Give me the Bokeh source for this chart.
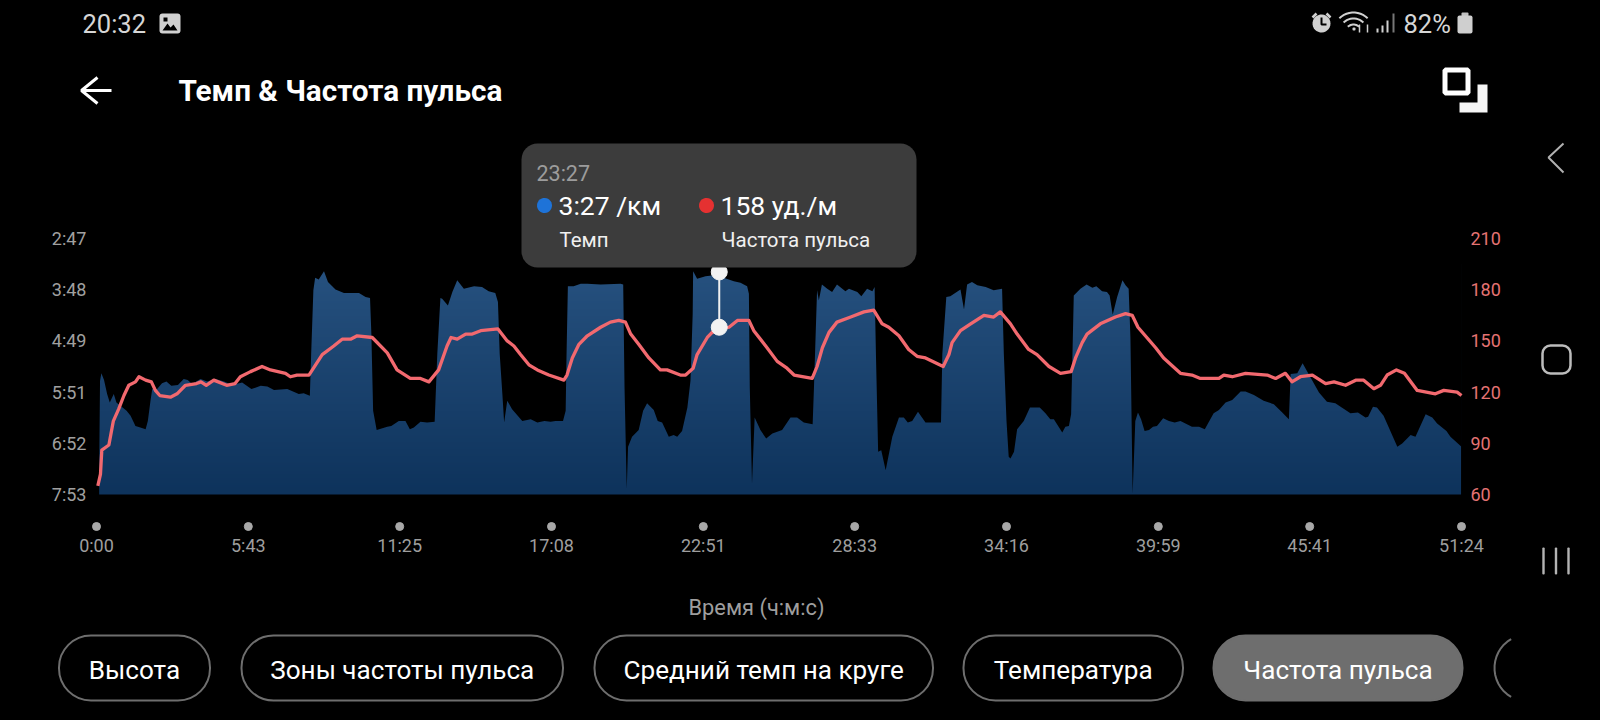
import numpy as np
from bokeh.plotting import figure
from bokeh.embed import file_html
from bokeh.resources import INLINE
from bokeh.models import Range1d, LinearAxis, FixedTicker, Label, BoxAnnotation, PolyAnnotation

# ---------- data ----------
pace_t = [0,5,8,11,17,24,30,39,45,54,68,77,88,99,111,116,122,126,137,148,158,169,184,197,206,216,235,250,269,288,307,329,350,371,386,401,431,457,468,482,485,490,494,502,514,523,540,559,593,608,618,621,625,633,657,666,683,698,708,717,732,747,764,770,777,781,794,804,815,830,853,871,886,901,907,911,917,921,928,939,962,981,996,1012,1026,1037,1054,1060,1062,1065,1078,1094,1109,1139,1184,1190,1193,1198,1201,1210,1225,1235,1244,1259,1268,1278,1293,1304,1312,1323,1335,1342,1347,1348,1357,1376,1395,1417,1440,1455,1470,1474,1476,1481,1487,1500,1513,1527,1549,1568,1583,1598,1618,1621,1628,1632,1639,1651,1662,1673,1692,1700,1719,1728,1741,1753,1758,1761,1766,1773,1783,1798,1813,1824,1833,1843,1856,1873,1892,1908,1911,1920,1929,1952,1960,1967,1978,1990,2009,2027,2046,2050,2056,2061,2065,2073,2080,2095,2109,2131,2144,2155,2163,2182,2189,2197,2202,2208,2223,2237,2250,2259,2272,2283,2289,2296,2306,2318,2325,2332,2336,2341,2347,2353,2360,2368,2378,2387,2396,2410,2423,2436,2449,2475,2491,2504,2524,2536,2551,2566,2585,2596,2615,2637,2660,2679,2690,2694,2698,2713,2725,2743,2762,2780,2799,2833,2850,2867,2873,2884,2893,2908,2939,2950,2969,2980,3003,3018,3029,3050,3059,3084]
pace_s = [473,473,337,328,336,353,363,353,363,367,373,379,391,393,395,385,361,347,347,340,338,343,342,335,336,341,335,338,335,338,342,339,347,343,344,348,347,353,352,355,305,229,214,216,206,219,228,232,232,237,238,281,373,396,392,391,385,385,395,393,386,387,386,305,238,239,247,231,217,227,224,225,230,232,243,305,353,387,361,371,385,383,387,385,386,385,385,373,305,224,224,221,221,222,221,222,345,466,416,404,396,373,364,372,385,387,404,402,404,397,369,337,257,206,215,212,211,214,218,220,224,233,345,460,381,396,406,400,396,381,381,387,389,345,229,241,222,227,231,222,230,227,231,236,227,230,225,305,422,420,444,404,381,381,387,385,374,387,387,387,305,237,236,228,252,222,219,223,225,229,227,305,385,428,430,422,395,385,369,369,376,383,383,399,392,391,377,235,227,222,226,224,230,231,235,258,237,217,223,227,285,472,385,375,383,397,396,392,391,382,385,387,385,392,392,395,376,372,363,360,350,350,354,361,365,375,381,383,329,328,316,333,351,362,364,376,375,381,380,368,369,379,416,412,402,404,377,381,388,397,404,416]

hr_t = [3,9,12,28,38,50,62,73,88,96,111,124,133,143,167,182,201,226,236,248,265,294,313,325,348,374,393,427,438,453,480,495,510,536,555,574,589,623,657,679,709,732,751,773,792,801,815,834,849,868,907,928,943,958,977,996,1022,1056,1063,1075,1090,1109,1139,1161,1180,1195,1207,1225,1248,1274,1289,1319,1331,1348,1357,1380,1391,1410,1429,1448,1474,1485,1512,1538,1560,1576,1617,1628,1640,1655,1673,1704,1734,1756,1775,1790,1813,1835,1854,1873,1913,1926,1933,1952,1975,2005,2027,2042,2065,2080,2106,2125,2152,2178,2202,2212,2227,2238,2268,2302,2325,2340,2353,2393,2411,2449,2475,2494,2536,2547,2566,2596,2645,2664,2686,2701,2720,2747,2777,2796,2822,2845,2863,2886,2901,2916,2937,2955,2984,3025,3044,3074,3084]
hr_bpm = [65,72,86,89,103,110,118,124,126,129,127,126,121,118,117,119,124,125,126,124,127,124,125,129,132,135,133,131,129,130,130,136,142,147,151,151,153,152,143,133,128,128,126,133,147,152,151,154,154,156,157,150,147,142,136,133,130,127,130,140,148,153,158,161,162,161,154,148,140,133,133,130,130,134,142,152,155,157,158,162,162,156,147,138,134,130,128,135,146,155,161,164,167,168,160,158,153,145,141,140,135,142,149,156,160,165,164,167,160,154,145,142,135,131,132,140,149,154,160,164,166,165,158,146,140,131,130,128,128,130,129,131,130,128,131,126,129,130,125,126,124,127,127,122,124,130,133,131,121,119,121,120,118]

x_tick_values = [0,343,685,1028,1371,1713,2056,2399,2741,3084]
x_tick_labels = ["0:00","5:43","11:25","17:08","22:51","28:33","34:16","39:59","45:41","51:24"]
pace_tick_values = [167,228,289,351,412,473]
pace_tick_labels = ["2:47","3:48","4:49","5:51","6:52","7:53"]
hr_tick_values = [60,90,120,150,180,210]
hr_tick_labels = ["60","90","120","150","180","210"]
cursor_time = 1407
cursor_pace = 207
cursor_hr = 158
chip_labels = ["Высота","Зоны частоты пульса","Средний темп на круге","Температура","Частота пульса"]

# ---------- layout (page pixels); the plot frame fills the whole page ----------
W, H = 1600, 720
FONT = "Roboto"
px_x0, px_x1 = 96.0, 1461.0          # time 0 .. 3084
px_y60, px_y210 = 494.0, 238.0       # 60 .. 210 bpm
sec_per_px = 3084 / (px_x1 - px_x0)
bpm_per_px = 150 / (px_y60 - px_y210)
pace_per_px = 306 / (px_y60 - px_y210)

def t_of_px(x): return (x - px_x0) * sec_per_px
def bpm_of_px(y): return 60 + (px_y60 - y) * bpm_per_px
def pace_of_px(y): return 473 - (px_y60 - y) * pace_per_px

p = figure(width=W, height=H, output_backend="svg", toolbar_location=None,
           x_range=Range1d(t_of_px(0), t_of_px(W)),
           y_range=Range1d(bpm_of_px(H), bpm_of_px(0)),
           min_border_left=0, min_border_right=0, min_border_top=0, min_border_bottom=0,
           background_fill_color="#000000", border_fill_color="#000000")
p.outline_line_color = None
p.grid.visible = False
p.extra_y_ranges["pace"] = Range1d(pace_of_px(H), pace_of_px(0))
p.xaxis.visible = False
p.yaxis.visible = False

def style_axis(ax, color, size="18px", standoff=2):
    ax.axis_line_color = None
    ax.major_tick_line_color = None
    ax.minor_tick_line_color = None
    ax.major_label_text_color = color
    ax.major_label_text_font = FONT
    ax.major_label_text_font_size = size
    ax.major_label_standoff = standoff

xa = LinearAxis(ticker=FixedTicker(ticks=x_tick_values), fixed_location=bpm_of_px(525),
                major_label_overrides=dict(zip(x_tick_values, x_tick_labels)))
style_axis(xa, "#9e9e9e", standoff=3)
p.add_layout(xa, "below")
la = LinearAxis(y_range_name="pace", ticker=FixedTicker(ticks=pace_tick_values), fixed_location=t_of_px(94),
                major_label_overrides=dict(zip(pace_tick_values, pace_tick_labels)))
style_axis(la, "#a0a0a0")
p.add_layout(la, "left")
ra = LinearAxis(ticker=FixedTicker(ticks=hr_tick_values), fixed_location=t_of_px(1462),
                major_label_overrides=dict(zip(hr_tick_values, hr_tick_labels)))
style_axis(ra, "#e57373")
p.add_layout(ra, "right")

# gradient area: a vertical gradient, masked black above the pace curve
c_top, c_bot = np.array([0x27, 0x52, 0x80]), np.array([0x0e, 0x33, 0x5c])
rows = 128
grad = np.zeros((rows, 1), dtype=np.uint32)
view = grad.view(np.uint8).reshape((rows, 1, 4))
for i in range(rows):
    c = c_bot + (c_top - c_bot) * i / (rows - 1)
    view[i, 0] = [int(c[0]), int(c[1]), int(c[2]), 255]
p.image_rgba(image=[grad], x=6, y=60, dw=3077, dh=135)
p.varea(x=pace_t, y1=pace_s, y2=[167] * len(pace_t), y_range_name="pace", fill_color="#000000")

# heart-rate line
p.line(hr_t, hr_bpm, line_color="#f2696f", line_width=3.3, line_join="round")

# x tick dots
p.scatter(x_tick_values, [bpm_of_px(526)] * len(x_tick_values), size=8, color="#a8a8a8")

# cursor
pace_as_bpm = 60 + (473 - cursor_pace) / 306 * 150
p.segment([cursor_time], [pace_as_bpm], [cursor_time], [cursor_hr], line_color="#f0f0f0", line_width=2)
p.scatter([cursor_time], [cursor_pace], y_range_name="pace", size=16, color="#f2f2f2")
p.scatter([cursor_time], [cursor_hr], size=16, color="#f2f2f2")

# ---------- chrome ----------
def sx(x): return x
def sy(y): return H - y

def text(x, y, s, size, color="#ffffff", align="left", bold=False):
    p.add_layout(Label(x=sx(x), y=sy(y), x_units="screen", y_units="screen", text=s, text_font=FONT,
                       text_font_size=f"{size}px", text_color=color, text_align=align,
                       text_baseline="middle", text_font_style="bold" if bold else "normal"))

def box(l, t, r, b, fill=None, line=None, lw=1.5, radius=0):
    p.add_layout(BoxAnnotation(left=sx(l), right=sx(r), top=sy(t), bottom=sy(b),
                               left_units="screen", right_units="screen", top_units="screen", bottom_units="screen",
                               fill_color=fill or "#000000", fill_alpha=1 if fill else 0,
                               line_color=line or "#000000", line_alpha=1 if line else 0, line_width=lw,
                               border_radius=radius, level="annotation", editable=False))

def poly(xs, ys, fill=None, line=None, lw=2):
    p.add_layout(PolyAnnotation(xs=[sx(v) for v in xs], ys=[sy(v) for v in ys], xs_units="screen", ys_units="screen",
                                fill_color=fill or "#000000", fill_alpha=1 if fill else 0,
                                line_color=line or "#000000", line_alpha=1 if line else 0, line_width=lw,
                                level="annotation"))

def stroke(xs, ys, color, lw=2):
    poly(list(xs) + list(xs[-2:0:-1]), list(ys) + list(ys[-2:0:-1]), line=color, lw=lw)

# status bar
text(82, 23, "20:32", 25.5, "#d6d6d6")
box(159, 13, 180, 33, fill="#d0d0d0", radius=3)
poly([162, 167, 170, 173, 177, 177, 162], [30, 23, 27, 24, 30, 30, 30], fill="#000000")
poly([163, 167, 167, 163], [17, 17, 21, 21], fill="#000000")
a = np.linspace(0, 2 * np.pi, 30)
poly(list(1321 + 9 * np.cos(a)), list(23 + 9 * np.sin(a)), fill="#d0d0d0")
stroke([1321, 1321, 1326], [17, 24, 24], "#000000", 2)
stroke([1312, 1316], [17, 13], "#d0d0d0", 2.5)
stroke([1330, 1326], [17, 13], "#d0d0d0", 2.5)
for r_ in (20, 14, 8):
    b = np.linspace(np.pi * 1.25, np.pi * 1.75, 12)
    stroke(list(1353 + r_ * np.cos(b)), list(32 + r_ * np.sin(b)), "#d0d0d0", 2)
box(1352, 27, 1355, 30, fill="#d0d0d0", radius=1)
stroke([1359, 1359], [24, 32], "#d0d0d0", 1.5)
stroke([1367, 1367], [24, 32], "#d0d0d0", 1.5)
box(1376, 28, 1378, 32, fill="#d0d0d0")
box(1381, 25, 1383, 32, fill="#d0d0d0")
box(1386, 20, 1388, 32, fill="#d0d0d0")
box(1392, 13, 1394, 32, fill="#777777")
text(1403, 23, "82%", 25.5, "#d6d6d6")
box(1461, 12, 1468, 16, fill="#c0c0c0", radius=1)
box(1457, 15, 1472, 33, fill="#cfcfcf", radius=2)

# header
stroke([97, 81, 97], [77, 90, 103], "#ffffff", 3)
stroke([81, 111], [90, 90], "#ffffff", 3)
text(178, 90, "Темп & Частота пульса", 29.7, "#ffffff", bold=True)
box(1444.5, 69.5, 1467.5, 92.5, line="#ffffff", lw=5)
poly([1459, 1477, 1477, 1487, 1487, 1459], [102, 102, 84, 84, 112, 112], fill="#f5f5f5")

# tooltip
box(521, 143, 916, 267, fill="#3c3c3c", radius=16)
text(536, 173, "23:27", 21.5, "#9c9c9c")
e = np.linspace(0, 2 * np.pi, 30)
poly(list(544 + 7.5 * np.cos(e)), list(205 + 7.5 * np.sin(e)), fill="#1e73d8")
poly(list(706 + 7.5 * np.cos(e)), list(205 + 7.5 * np.sin(e)), fill="#e53131")
text(558, 205, "3:27 /км", 26.5)
text(720, 205, "158 уд./м", 26.5)
text(559, 239, "Темп", 20.5, "#f0f0f0")
text(721, 239, "Частота пульса", 20.5, "#f0f0f0")

# axis title
text(756, 607, "Время (ч:м:с)", 21.8, "#9e9e9e", align="center")

# chips
chip_edges = [(58.5, 209.5), (241, 562.5), (594, 932.5), (963, 1182.5), (1213, 1462)]
for (l, r), s in zip(chip_edges, chip_labels):
    active = s == "Частота пульса"
    box(l, 635, r, 700, fill="#6e6e6e" if active else None, line="#6e6e6e", lw=2, radius=32)
    text((l + r) / 2, 669, s, 26.1, "#ffffff", align="center")
# partially hidden chip at the right edge
g = np.linspace(np.pi * 0.66, np.pi * 1.34, 16)
stroke(list(1526 + 32 * np.cos(g)), list(667.5 + 33 * np.sin(g)), "#6e6e6e", 2)

# navigation bar
stroke([1563, 1548, 1563], [143, 157, 172], "#b0b0b0", 2)
box(1542, 345, 1570, 373, line="#bcbcbc", lw=2.5, radius=8)
for bx in (1543, 1555.5, 1568):
    box(bx - 1.2, 547, bx + 1.2, 574, fill="#b4b4b4", radius=1)

html = file_html(p, INLINE).replace("<body>", '<body style="background:#000000">')
open("out.html", "w").write(html)
